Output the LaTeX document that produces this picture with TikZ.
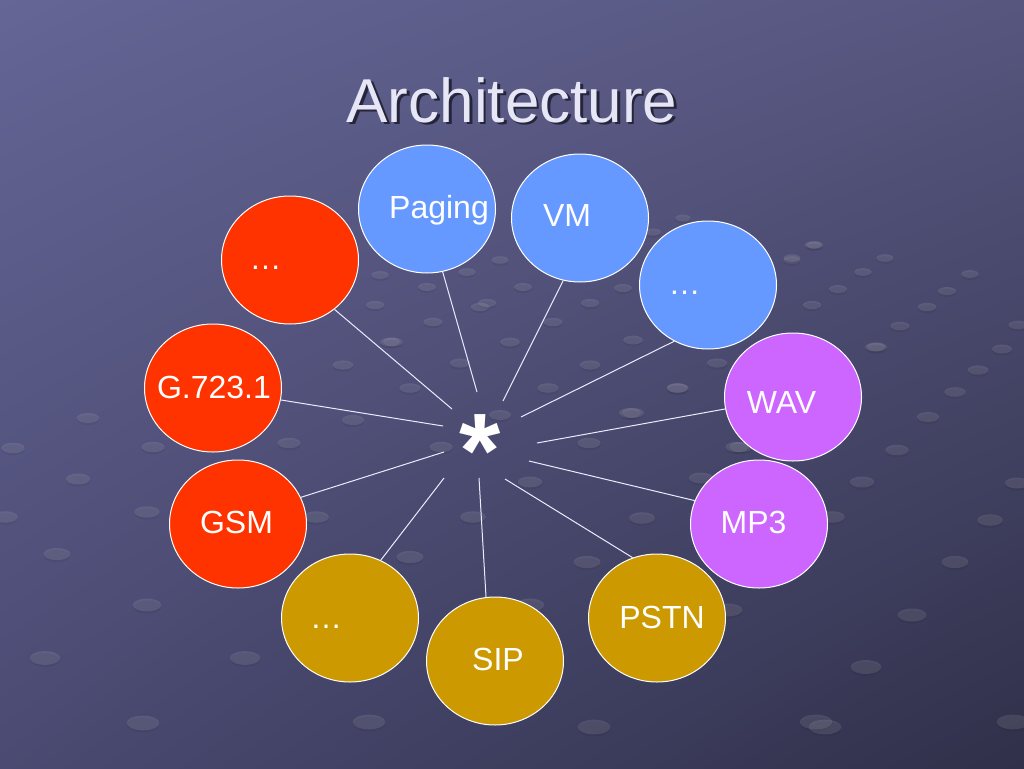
\documentclass[tikz,border=0pt]{standalone}
\usepackage{fontspec}
\setmainfont{Liberation Sans}
\usetikzlibrary{shapes.geometric,shadings}
\definecolor{bgtl}{HTML}{656596}
\definecolor{bgtr}{HTML}{56567F}
\definecolor{bgbl}{HTML}{4A4A72}
\definecolor{bgbr}{HTML}{30304A}
\definecolor{titlefg}{HTML}{E6E6F6}
\definecolor{titlesh}{HTML}{25253C}
\definecolor{bluebub}{HTML}{6699FF}
\definecolor{violetbub}{HTML}{CC66FF}
\definecolor{goldbub}{HTML}{CC9900}
\definecolor{redbub}{HTML}{FF3300}
\begin{document}
\begin{tikzpicture}[x=1pt,y=-1pt,
    bubble/.style={ellipse,draw=white,line width=1pt,minimum width=137pt,minimum height=128pt,inner sep=0pt},
    lbl/.style={anchor=base,text=white,font=\fontsize{32}{38}\selectfont},
    spoke/.style={draw=white!92!blue,line width=1pt}]
  \useasboundingbox (0,0) rectangle (1024,768);
  \shade[upper left=bgtl,upper right=bgtr,lower left=bgbl,lower right=bgbr] (0,0) rectangle (1024,768);
  % dots of the backdrop
  \foreach \px/\py in {88/418,13/448,153/447,289/443,78/479,5/517,147/512,57/554,147/605,45/658,245/658,143/723,
      316/517,410/557,473/517,441/447,530/482,589/443,587/562,642/518,701/478,741/447,530/605,369/722,594/727,816/722,728/610,
      500/260,427/287,467/272,375/305,487/303,523/287,590/303,623/288,553/322,433/322,393/342,510/342,633/340,343/365,460/363,
      590/365,548/388,410/388,678/388,500/415,630/413,683/218,653/232,380/275,353/420,390/342,480/307,
      813/245,792/260,717/363,677/388,633/413,737/447,877/347,815/245,792/258,885/258,863/272,970/274,838/289,947/291,
      812/305,927/307,900/326,875/347,1018/325,1002/349,978/370,955/392,928/417,897/450,862/482,1017/483,990/520,
      955/562,912/615,866/667,825/727,1013/722,832/517} {
    \pgfmathsetmacro\rx{4+0.017*\py}
    \fill[black,opacity=0.06] (\px,\py+2) ellipse [x radius=\rx, y radius=0.45*\rx];
    \fill[white,opacity=0.10] (\px,\py) ellipse [x radius=\rx, y radius=0.45*\rx];
  }
  % title
  \node[anchor=base,text=titlefg,font=\fontsize{62}{70}\selectfont] (title) at (512,122)
    {\rlap{\kern2.5pt\raisebox{-2.5pt}{\textcolor{titlesh}{Architecture}}}Architecture};
  % hub
  \node[anchor=base,text=white,inner sep=0pt,font=\fontsize{106}{106}\selectfont\bfseries] (hub) at (480,487) {*};
  % bubbles
  \node[bubble,fill=redbub] (reddots) at (290,260) {};
  \node[bubble,fill=bluebub] (paging) at (427,209) {};
  \node[bubble,fill=bluebub] (vm) at (580,218) {};
  \node[bubble,fill=bluebub] (bluedots) at (708,285) {};
  \node[bubble,fill=violetbub] (wav) at (793,397) {};
  \node[bubble,fill=violetbub] (mp3) at (759,524) {};
  \node[bubble,fill=goldbub] (pstn) at (657,618) {};
  \node[bubble,fill=goldbub] (sip) at (495,661) {};
  \node[bubble,fill=goldbub] (golddots) at (350,618) {};
  \node[bubble,fill=redbub] (gsm) at (238,524) {};
  \node[bubble,fill=redbub] (g723) at (213,388) {};
  \node[lbl] at (265.5,269) {\dots};
  \node[lbl] at (439,218) {Paging};
  \node[lbl] at (567,226) {VM};
  \node[lbl] at (684.5,294) {\dots};
  \node[lbl] at (781.5,413) {WAV};
  \node[lbl] at (753.5,533) {MP3};
  \node[lbl] at (662,628) {PSTN};
  \node[lbl] at (498,670) {SIP};
  \node[lbl] at (326,628) {\dots};
  \node[lbl] at (236.5,533) {GSM};
  \node[lbl] at (214,398) {G.723.1};
  % spokes
  \coordinate (h-reddots) at (452,409);
  \coordinate (h-paging) at (477,392);
  \coordinate (h-vm) at (503,401);
  \coordinate (h-bluedots) at (521,417);
  \coordinate (h-wav) at (537,443);
  \coordinate (h-mp3) at (529,461);
  \coordinate (h-pstn) at (505,479);
  \coordinate (h-sip) at (479,478);
  \coordinate (h-golddots) at (444,478);
  \coordinate (h-gsm) at (444,452);
  \coordinate (h-g723) at (443,426);
  \draw[spoke] (h-reddots) -- (reddots.-48);
  \draw[spoke] (h-paging) -- (paging.-76);
  \draw[spoke] (h-vm) -- (vm.-105);
  \draw[spoke] (h-bluedots) -- (bluedots.-121.5);
  \draw[spoke] (h-wav) -- (wav.190);
  \draw[spoke] (h-mp3) -- (mp3.160.4);
  \draw[spoke] (h-pstn) -- (pstn.112.6);
  \draw[spoke] (h-sip) -- (sip.98);
  \draw[spoke] (h-golddots) -- (golddots.62);
  \draw[spoke] (h-gsm) -- (gsm.23);
  \draw[spoke] (h-g723) -- (g723.-10.7);
\end{tikzpicture}
\end{document}
